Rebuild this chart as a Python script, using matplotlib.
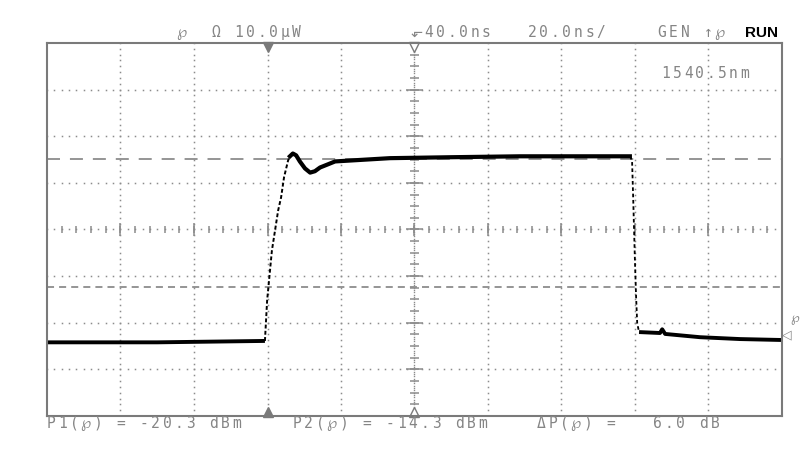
import numpy as np
import matplotlib
matplotlib.use("Agg")
import matplotlib.pyplot as plt

# scope settings: 20 ns/div horizontally, 10 uW/div vertically
t_span = 200.0
p_span = 80.0

# trace (time in ns, power in uW)
low1_t = [0.0, 30.0, 59.3]
low1_p = [15.8, 15.8, 16.1]
rise_t = [59.3, 59.9, 61.2, 62.9, 63.7, 64.5, 65.6, 66.1]
rise_p = [16.1, 24.8, 35.5, 44.1, 46.9, 51.2, 54.8, 55.7]
high_t = [66.1, 66.9, 67.8, 68.8, 70.2, 71.6, 72.9, 74.3, 76.2, 78.4, 93.3, 109.7, 128.7, 145.0, 158.6]
high_p = [55.7, 56.3, 55.9, 54.6, 53.1, 52.2, 52.5, 53.3, 53.9, 54.6, 55.3, 55.5, 55.7, 55.7, 55.7]
fall_t = [158.6, 159.2, 159.5, 160.0, 160.3, 160.6, 161.1]
fall_p = [55.7, 54.8, 46.9, 32.8, 25.5, 19.9, 18.0]
low2_t = [161.1, 166.8, 167.4, 168.2, 177.7, 188.6, 200.0]
low2_p = [18.0, 17.8, 18.6, 17.6, 16.9, 16.5, 16.3]

# marker levels
level_hi = 55.2
level_lo = 27.6

header = [(177, "℘  Ω 10.0µW"), (413, "⬐40.0ns"), (528, "20.0ns/"), (658, "GEN ↑℘")]
footer = [(47, "P1(℘) = -20.3 dBm"), (293, "P2(℘) = -14.3 dBm"), (537, "ΔP(℘) =   6.0 dB")]
wavelength = "1540.5nm"

GRID = "#8c8c8c"
TXT = "#858585"
W, H = 800, 463

fig = plt.figure(figsize=(8, 4.63), dpi=100)
ax = fig.add_axes([47 / W, 47 / H, 735 / W, 373 / H])
ax.set_xlim(0, t_span)
ax.set_ylim(0, p_span)
ax.set_xticks([])
ax.set_yticks([])
for s in ax.spines.values():
    s.set_color("#7a7a7a")
    s.set_linewidth(1.5)


def mono(x0, y, s, pitch=11.5, size=10.5, color=TXT):
    # fixed pitch text, placed char by char in pixel coords
    for i, ch in enumerate(s):
        if ch == " ":
            continue
        fig.text((x0 + 4 + i * pitch) / W, 1 - y / H, ch, ha="center", va="baseline",
                 fontsize=size, color=color, family=["DejaVu Sans Mono", "DejaVu Sans"])


#---------------------------------------------------------------------------------------------#
# graticule
xdiv = t_span / 10
ydiv = p_span / 8
for k in range(1, 8):
    if k == 4:
        continue
    xs = np.arange(0, t_span + 0.01, xdiv / 10)
    ax.plot(xs, np.full_like(xs, k * ydiv), "s", ms=1.1, color=GRID, mew=0)
for k in range(1, 10):
    if k == 5:
        continue
    ys = np.arange(0, p_span + 0.01, ydiv / 8)
    ax.plot(np.full_like(ys, k * xdiv), ys, "s", ms=1.1, color=GRID, mew=0)

# centre cross
cy = p_span / 2
cx = t_span / 2
xs = np.arange(0, t_span + 0.01, xdiv / 10)
ax.plot(xs, np.full_like(xs, cy), "s", ms=1.1, color=GRID, mew=0)
minor = np.arange(0, t_span + 0.01, xdiv / 5)
ax.vlines(minor, cy - 0.65, cy + 0.65, color=GRID, lw=1.1)
major = np.arange(0, t_span + 0.01, xdiv)
ax.vlines(major, cy - 1.3, cy + 1.3, color=GRID, lw=1.1)

ys = np.arange(0, p_span + 0.01, ydiv / 20)
ax.plot(np.full_like(ys, cx), ys, "s", ms=1.0, color=GRID, mew=0)
minor = np.arange(0, p_span + 0.01, ydiv / 4)
ax.hlines(minor, cx - 1.1, cx + 1.1, color=GRID, lw=1.1)
major = np.arange(0, p_span + 0.01, ydiv)
ax.hlines(major, cx - 2.3, cx + 2.3, color=GRID, lw=1.1)

# level markers
ax.axhline(level_hi, color=GRID, lw=1.3, linestyle=(0, (7.2, 5.5)))
ax.axhline(level_lo, color=GRID, lw=1.3, linestyle=(0, (3.9, 2.8)))

# trigger / delay markers
ax.plot([3 * xdiv], [p_span - 0.9], "v", ms=7, color="#7a7a7a", clip_on=False)
ax.plot([3 * xdiv], [0.9], "^", ms=7, color="#7a7a7a", clip_on=False)
ax.plot([cx], [p_span - 0.9], "v", ms=7, mfc="white", mec="#7a7a7a", mew=1, clip_on=False)
ax.plot([cx], [0.9], "^", ms=7, mfc="white", mec="#7a7a7a", mew=1, clip_on=False)

#---------------------------------------------------------------------------------------------#
# trace
ax.plot(low1_t, low1_p, color="black", lw=2.8, solid_capstyle="butt")
ax.plot(rise_t, rise_p, color="black", lw=1.4, linestyle=(0, (2, 1.2)))
ax.plot(high_t, high_p, color="black", lw=3.0, solid_joinstyle="round")
ax.plot(fall_t, fall_p, color="black", lw=1.3, linestyle=(0, (2, 1.5)))
ax.plot(low2_t, low2_p, color="black", lw=2.8, solid_capstyle="butt")

#---------------------------------------------------------------------------------------------#
# screen text
for x0, s in header:
    mono(x0, 37, s)
fig.text(745 / W, 1 - 37 / H, "RUN", ha="left", va="baseline", fontsize=11,
         fontweight="bold", color="black", family="Liberation Sans")
for x0, s in footer:
    mono(x0, 428, s, pitch=11.6)
mono(662, 78, wavelength, pitch=11.25)

# channel marker on the right edge
fig.text(787 / W, 1 - 338 / H, "◁", ha="center", va="baseline", fontsize=9, color=TXT)
fig.text(795 / W, 1 - 322 / H, "℘", ha="center", va="baseline", fontsize=9, color=TXT)

fig.savefig("out.png", dpi=100)
